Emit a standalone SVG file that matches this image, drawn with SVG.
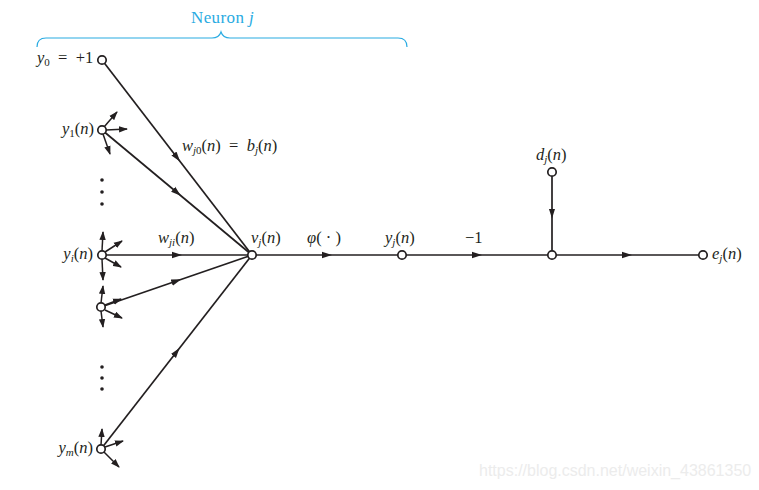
<svg xmlns="http://www.w3.org/2000/svg" width="759" height="490" viewBox="0 0 759 490">
<defs>
<marker id="mid" viewBox="0 0 10 8" refX="5" refY="4" markerWidth="10" markerHeight="8" markerUnits="userSpaceOnUse" orient="auto"><path d="M0,0.8 L10,4 L0,7.2 Z" fill="#231f20"/></marker>
<marker id="tip" viewBox="0 0 9 7" refX="8" refY="3.5" markerWidth="9" markerHeight="7" markerUnits="userSpaceOnUse" orient="auto"><path d="M0,0.3 L9,3.5 L0,6.7 Z" fill="#231f20"/></marker>
</defs>
<style>
.e{stroke:#231f20;stroke-width:1.7;fill:none;marker-mid:url(#mid)}
.f{stroke:#231f20;stroke-width:1.5;fill:none;marker-end:url(#tip)}
.n{fill:#fff;stroke:#231f20;stroke-width:1.7}
.t{font-family:"Liberation Serif",serif;font-size:16.5px;fill:#231f20}
.i{font-style:italic}
.s{font-size:11px}
</style>
<rect width="759" height="490" fill="#fff"/>
<g id="brace">
<path d="M37,47 Q37,38 46,38 L212,38 Q219,38 221,32 Q223,38 230,38 L398,38 Q407,38 407,47" fill="none" stroke="#29abe2" stroke-width="1.2"/>
<text x="191" y="23" font-family="Liberation Serif,serif" font-size="17" fill="#29abe2" letter-spacing="0.4">Neuron <tspan font-style="italic">j</tspan></text>
</g>
<g id="connectors">
<path class="e" d="M102,60 L177,157.5 L252,255"/>
<path class="e" d="M102,130 L177,192.5 L252,255"/>
<path class="e" d="M102,255 L177,255 L252,255"/>
<path class="e" d="M101,307 L176.5,281 L252,255"/>
<path class="e" d="M101,449 L176.5,352 L252,255"/>
<path class="e" d="M252,255 L327,255 L402,255"/>
<path class="e" d="M402,255 L477,255 L552,255"/>
<path class="e" d="M552,172 L552,213.5 L552,255"/>
<path class="e" d="M552,255 L627,255 L703,255"/>
<path class="f" d="M104,127 L117,112"/>
<path class="f" d="M106,130 L127,129"/>
<path class="f" d="M103,134 L110,154"/>
<path class="f" d="M102,251 L103,232"/>
<path class="f" d="M105,252 L122,241"/>
<path class="f" d="M105,258 L121,267"/>
<path class="f" d="M102,259 L103,280"/>
<path class="f" d="M101,303 L103,286"/>
<path class="f" d="M105,305 L121,299"/>
<path class="f" d="M105,310 L122,318"/>
<path class="f" d="M101,311 L103,327"/>
<path class="f" d="M101,445 L102,429"/>
<path class="f" d="M105,447 L123,441"/>
<path class="f" d="M104,452 L119,467"/>
</g>
<g id="y0"><circle class="n" cx="102" cy="60" r="4.2"/><text class="t" x="37" y="63"><tspan class="i">y</tspan><tspan class="s" dy="3">0</tspan><tspan dy="-3" xml:space="preserve">  =  +1</tspan></text></g>
<g id="y1"><circle class="n" cx="102" cy="130" r="4.2"/><text class="t" x="94" y="134" text-anchor="end"><tspan class="i">y</tspan><tspan class="s" dy="3">1</tspan><tspan dy="-3">(</tspan><tspan class="i">n</tspan>)</text></g>
<g id="dots1"><circle cx="102" cy="180" r="1.8" fill="#231f20"/><circle cx="102" cy="192" r="1.8" fill="#231f20"/><circle cx="102" cy="204" r="1.8" fill="#231f20"/></g>
<g id="yi"><circle class="n" cx="102" cy="255" r="4.2"/><text class="t" x="93" y="259" text-anchor="end"><tspan class="i">y</tspan><tspan class="s i" dy="3">i</tspan><tspan dy="-3">(</tspan><tspan class="i">n</tspan>)</text></g>
<g id="yk"><circle class="n" cx="101" cy="307" r="4.2"/></g>
<g id="dots2"><circle cx="102" cy="367" r="1.8" fill="#231f20"/><circle cx="102" cy="378" r="1.8" fill="#231f20"/><circle cx="102" cy="389" r="1.8" fill="#231f20"/></g>
<g id="ym"><circle class="n" cx="101" cy="449" r="4.2"/><text class="t" x="93" y="453" text-anchor="end"><tspan class="i">y</tspan><tspan class="s i" dy="3">m</tspan><tspan dy="-3">(</tspan><tspan class="i">n</tspan>)</text></g>
<g id="vj"><circle class="n" cx="252" cy="255" r="4.2"/><text class="t" x="251" y="243"><tspan class="i">v</tspan><tspan class="s i" dy="3">j</tspan><tspan dy="-3">(</tspan><tspan class="i">n</tspan>)</text></g>
<g id="yj"><circle class="n" cx="402" cy="255" r="4.2"/><text class="t" x="385" y="243"><tspan class="i">y</tspan><tspan class="s i" dy="3">j</tspan><tspan dy="-3">(</tspan><tspan class="i">n</tspan>)</text></g>
<g id="sum"><circle class="n" cx="552" cy="255" r="4.2"/></g>
<g id="dj"><circle class="n" cx="552" cy="172" r="4.2"/><text class="t" x="536" y="160"><tspan class="i">d</tspan><tspan class="s i" dy="3">j</tspan><tspan dy="-3">(</tspan><tspan class="i">n</tspan>)</text></g>
<g id="ej"><circle class="n" cx="703" cy="255" r="4.2"/><text class="t" x="712" y="259"><tspan class="i">e</tspan><tspan class="s i" dy="3">j</tspan><tspan dy="-3">(</tspan><tspan class="i">n</tspan>)</text></g>
<g id="labels">
<text class="t" x="182" y="151" xml:space="preserve"><tspan class="i">w</tspan><tspan class="s" dy="3"><tspan class="i">j</tspan>0</tspan><tspan dy="-3">(</tspan><tspan class="i">n</tspan>)  =  <tspan class="i">b</tspan><tspan class="s i" dy="3">j</tspan><tspan dy="-3">(</tspan><tspan class="i">n</tspan>)</text>
<text class="t" x="158" y="243"><tspan class="i">w</tspan><tspan class="s i" dy="3">ji</tspan><tspan dy="-3">(</tspan><tspan class="i">n</tspan>)</text>
<text class="t" x="307" y="243" xml:space="preserve"><tspan class="i">φ</tspan>( · )</text>
<text class="t" x="465" y="243">−1</text>
</g>
<text x="479" y="476" font-family="Liberation Sans,sans-serif" font-size="16" fill="#ececec">https://blog.csdn.net/weixin_43861350</text>
</svg>
